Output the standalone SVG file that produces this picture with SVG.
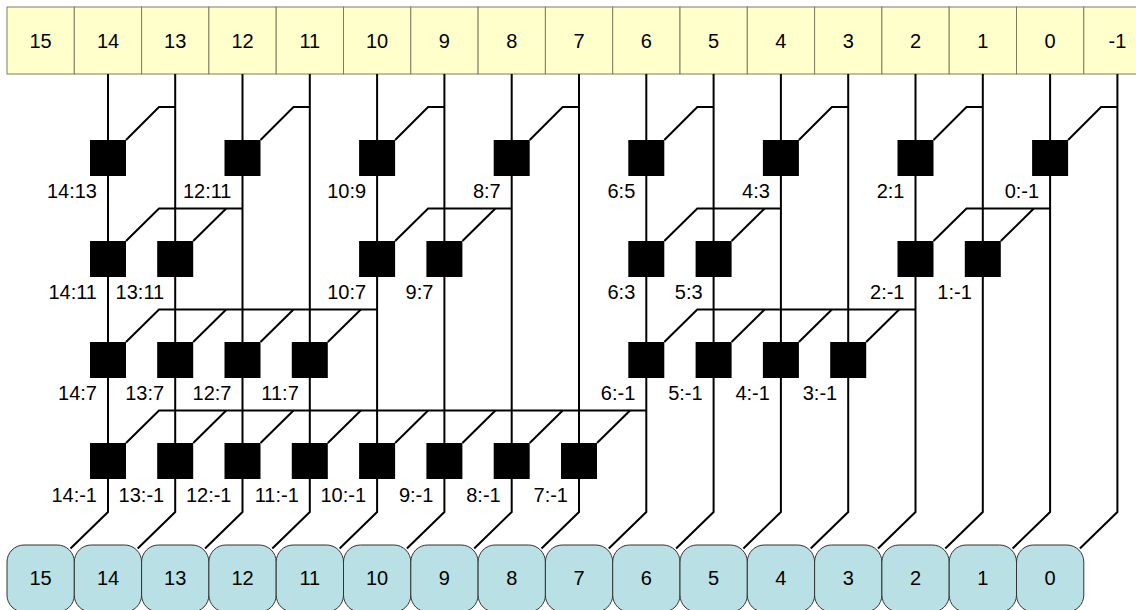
<svg xmlns="http://www.w3.org/2000/svg" width="1136" height="610" viewBox="0 0 1136 610">
<style>
.top rect{fill:#ffffcc;stroke:#7f7f60;stroke-width:1}
.bot rect{fill:#b9e0e4;stroke:#333;stroke-width:1}
.num{font-family:"Liberation Sans",Arial,sans-serif;font-size:20px;text-anchor:middle;fill:#000}
.lbl{font-family:"Liberation Sans",Arial,sans-serif;font-size:20px;text-anchor:end;fill:#000}
.w{fill:none;stroke:#000;stroke-width:2;stroke-linejoin:miter}
.sq{fill:#000}
</style>
<rect width="1136" height="610" fill="#fff"/>
<g id="inputs">
<g id="in15" class="top"><rect x="7" y="7" width="67.3" height="67"/><text class="num" x="40.6" y="47.5">15</text></g>
<g id="in14" class="top"><rect x="74.3" y="7" width="67.3" height="67"/><text class="num" x="108" y="47.5">14</text></g>
<g id="in13" class="top"><rect x="141.6" y="7" width="67.3" height="67"/><text class="num" x="175.2" y="47.5">13</text></g>
<g id="in12" class="top"><rect x="208.9" y="7" width="67.3" height="67"/><text class="num" x="242.5" y="47.5">12</text></g>
<g id="in11" class="top"><rect x="276.2" y="7" width="67.3" height="67"/><text class="num" x="309.8" y="47.5">11</text></g>
<g id="in10" class="top"><rect x="343.5" y="7" width="67.3" height="67"/><text class="num" x="377.1" y="47.5">10</text></g>
<g id="in9" class="top"><rect x="410.8" y="7" width="67.3" height="67"/><text class="num" x="444.4" y="47.5">9</text></g>
<g id="in8" class="top"><rect x="478.1" y="7" width="67.3" height="67"/><text class="num" x="511.7" y="47.5">8</text></g>
<g id="in7" class="top"><rect x="545.4" y="7" width="67.3" height="67"/><text class="num" x="579" y="47.5">7</text></g>
<g id="in6" class="top"><rect x="612.7" y="7" width="67.3" height="67"/><text class="num" x="646.3" y="47.5">6</text></g>
<g id="in5" class="top"><rect x="680" y="7" width="67.3" height="67"/><text class="num" x="713.6" y="47.5">5</text></g>
<g id="in4" class="top"><rect x="747.3" y="7" width="67.3" height="67"/><text class="num" x="780.9" y="47.5">4</text></g>
<g id="in3" class="top"><rect x="814.6" y="7" width="67.3" height="67"/><text class="num" x="848.2" y="47.5">3</text></g>
<g id="in2" class="top"><rect x="881.9" y="7" width="67.3" height="67"/><text class="num" x="915.5" y="47.5">2</text></g>
<g id="in1" class="top"><rect x="949.2" y="7" width="67.3" height="67"/><text class="num" x="982.8" y="47.5">1</text></g>
<g id="in0" class="top"><rect x="1016.5" y="7" width="67.3" height="67"/><text class="num" x="1050.1" y="47.5">0</text></g>
<g id="inm1" class="top"><rect x="1083.8" y="7" width="67.3" height="67"/><text class="num" x="1117.4" y="47.5">-1</text></g>
</g>
<g id="connectors">
<path class="w" d="M108 74V512L70.5 548.5"/>
<path class="w" d="M175.2 74V512L137.7 548.5"/>
<path class="w" d="M242.5 74V512L205 548.5"/>
<path class="w" d="M309.8 74V512L272.3 548.5"/>
<path class="w" d="M377.1 74V512L339.6 548.5"/>
<path class="w" d="M444.4 74V512L406.9 548.5"/>
<path class="w" d="M511.7 74V512L474.2 548.5"/>
<path class="w" d="M579 74V512L541.5 548.5"/>
<path class="w" d="M646.3 74V512L608.8 548.5"/>
<path class="w" d="M713.6 74V512L676.1 548.5"/>
<path class="w" d="M780.9 74V512L743.4 548.5"/>
<path class="w" d="M848.2 74V512L810.7 548.5"/>
<path class="w" d="M915.5 74V512L878 548.5"/>
<path class="w" d="M982.8 74V512L945.3 548.5"/>
<path class="w" d="M1050.1 74V512L1012.6 548.5"/>
<path class="w" d="M1117.4 74V512L1079.9 548.5"/>
<path class="w" d="M126 140L159 107H175.2"/>
<path class="w" d="M260.5 140L293.5 107H309.8"/>
<path class="w" d="M395.1 140L428.1 107H444.4"/>
<path class="w" d="M529.7 140L562.7 107H579"/>
<path class="w" d="M664.3 140L697.3 107H713.6"/>
<path class="w" d="M798.9 140L831.9 107H848.2"/>
<path class="w" d="M933.5 140L966.5 107H982.8"/>
<path class="w" d="M1068.1 140L1101.1 107H1117.4"/>
<path class="w" d="M126 241L159 208.5H242.5"/>
<path class="w" d="M193.2 241L226.2 208.5"/>
<path class="w" d="M395.1 241L428.1 208.5H511.7"/>
<path class="w" d="M462.4 241L495.4 208.5"/>
<path class="w" d="M664.3 241L697.3 208.5H780.9"/>
<path class="w" d="M731.6 241L764.6 208.5"/>
<path class="w" d="M933.5 241L966.5 208.5H1050.1"/>
<path class="w" d="M1000.8 241L1033.8 208.5"/>
<path class="w" d="M126 342L159 309.5H377.1"/>
<path class="w" d="M193.2 342L226.2 309.5"/>
<path class="w" d="M260.5 342L293.5 309.5"/>
<path class="w" d="M327.8 342L360.8 309.5"/>
<path class="w" d="M664.3 342L697.3 309.5H915.5"/>
<path class="w" d="M731.6 342L764.6 309.5"/>
<path class="w" d="M798.9 342L831.9 309.5"/>
<path class="w" d="M866.2 342L899.2 309.5"/>
<path class="w" d="M126 443L159 410.5H646.3"/>
<path class="w" d="M193.2 443L226.2 410.5"/>
<path class="w" d="M260.5 443L293.5 410.5"/>
<path class="w" d="M327.8 443L360.8 410.5"/>
<path class="w" d="M395.1 443L428.1 410.5"/>
<path class="w" d="M462.4 443L495.4 410.5"/>
<path class="w" d="M529.7 443L562.7 410.5"/>
<path class="w" d="M597 443L630 410.5"/>
</g>
<g id="cells">
<g id="n14_13"><rect class="sq" x="90" y="140" width="36" height="36"/><text class="lbl" x="97" y="198">14:13</text></g>
<g id="n12_11"><rect class="sq" x="224.5" y="140" width="36" height="36"/><text class="lbl" x="231.5" y="198">12:11</text></g>
<g id="n10_9"><rect class="sq" x="359.1" y="140" width="36" height="36"/><text class="lbl" x="366.1" y="198">10:9</text></g>
<g id="n8_7"><rect class="sq" x="493.7" y="140" width="36" height="36"/><text class="lbl" x="500.7" y="198">8:7</text></g>
<g id="n6_5"><rect class="sq" x="628.3" y="140" width="36" height="36"/><text class="lbl" x="635.3" y="198">6:5</text></g>
<g id="n4_3"><rect class="sq" x="762.9" y="140" width="36" height="36"/><text class="lbl" x="769.9" y="198">4:3</text></g>
<g id="n2_1"><rect class="sq" x="897.5" y="140" width="36" height="36"/><text class="lbl" x="904.5" y="198">2:1</text></g>
<g id="n0_m1"><rect class="sq" x="1032.1" y="140" width="36" height="36"/><text class="lbl" x="1039.1" y="198">0:-1</text></g>
<g id="n14_11"><rect class="sq" x="90" y="241" width="36" height="36"/><text class="lbl" x="97" y="299">14:11</text></g>
<g id="n13_11"><rect class="sq" x="157.2" y="241" width="36" height="36"/><text class="lbl" x="164.2" y="299">13:11</text></g>
<g id="n10_7"><rect class="sq" x="359.1" y="241" width="36" height="36"/><text class="lbl" x="366.1" y="299">10:7</text></g>
<g id="n9_7"><rect class="sq" x="426.4" y="241" width="36" height="36"/><text class="lbl" x="433.4" y="299">9:7</text></g>
<g id="n6_3"><rect class="sq" x="628.3" y="241" width="36" height="36"/><text class="lbl" x="635.3" y="299">6:3</text></g>
<g id="n5_3"><rect class="sq" x="695.6" y="241" width="36" height="36"/><text class="lbl" x="702.6" y="299">5:3</text></g>
<g id="n2_m1"><rect class="sq" x="897.5" y="241" width="36" height="36"/><text class="lbl" x="904.5" y="299">2:-1</text></g>
<g id="n1_m1"><rect class="sq" x="964.8" y="241" width="36" height="36"/><text class="lbl" x="971.8" y="299">1:-1</text></g>
<g id="n14_7"><rect class="sq" x="90" y="342" width="36" height="36"/><text class="lbl" x="97" y="400">14:7</text></g>
<g id="n13_7"><rect class="sq" x="157.2" y="342" width="36" height="36"/><text class="lbl" x="164.2" y="400">13:7</text></g>
<g id="n12_7"><rect class="sq" x="224.5" y="342" width="36" height="36"/><text class="lbl" x="231.5" y="400">12:7</text></g>
<g id="n11_7"><rect class="sq" x="291.8" y="342" width="36" height="36"/><text class="lbl" x="298.8" y="400">11:7</text></g>
<g id="n6_m1"><rect class="sq" x="628.3" y="342" width="36" height="36"/><text class="lbl" x="635.3" y="400">6:-1</text></g>
<g id="n5_m1"><rect class="sq" x="695.6" y="342" width="36" height="36"/><text class="lbl" x="702.6" y="400">5:-1</text></g>
<g id="n4_m1"><rect class="sq" x="762.9" y="342" width="36" height="36"/><text class="lbl" x="769.9" y="400">4:-1</text></g>
<g id="n3_m1"><rect class="sq" x="830.2" y="342" width="36" height="36"/><text class="lbl" x="837.2" y="400">3:-1</text></g>
<g id="n14_m1"><rect class="sq" x="90" y="443" width="36" height="36"/><text class="lbl" x="97" y="501.5">14:-1</text></g>
<g id="n13_m1"><rect class="sq" x="157.2" y="443" width="36" height="36"/><text class="lbl" x="164.2" y="501.5">13:-1</text></g>
<g id="n12_m1"><rect class="sq" x="224.5" y="443" width="36" height="36"/><text class="lbl" x="231.5" y="501.5">12:-1</text></g>
<g id="n11_m1"><rect class="sq" x="291.8" y="443" width="36" height="36"/><text class="lbl" x="298.8" y="501.5">11:-1</text></g>
<g id="n10_m1"><rect class="sq" x="359.1" y="443" width="36" height="36"/><text class="lbl" x="366.1" y="501.5">10:-1</text></g>
<g id="n9_m1"><rect class="sq" x="426.4" y="443" width="36" height="36"/><text class="lbl" x="433.4" y="501.5">9:-1</text></g>
<g id="n8_m1"><rect class="sq" x="493.7" y="443" width="36" height="36"/><text class="lbl" x="500.7" y="501.5">8:-1</text></g>
<g id="n7_m1"><rect class="sq" x="561" y="443" width="36" height="36"/><text class="lbl" x="568" y="501.5">7:-1</text></g>
</g>
<g id="outputs">
<g id="out15" class="bot"><rect x="7" y="545" width="67.3" height="67" rx="17"/><text class="num" x="40.6" y="585">15</text></g>
<g id="out14" class="bot"><rect x="74.3" y="545" width="67.3" height="67" rx="17"/><text class="num" x="108" y="585">14</text></g>
<g id="out13" class="bot"><rect x="141.6" y="545" width="67.3" height="67" rx="17"/><text class="num" x="175.2" y="585">13</text></g>
<g id="out12" class="bot"><rect x="208.9" y="545" width="67.3" height="67" rx="17"/><text class="num" x="242.5" y="585">12</text></g>
<g id="out11" class="bot"><rect x="276.2" y="545" width="67.3" height="67" rx="17"/><text class="num" x="309.8" y="585">11</text></g>
<g id="out10" class="bot"><rect x="343.5" y="545" width="67.3" height="67" rx="17"/><text class="num" x="377.1" y="585">10</text></g>
<g id="out9" class="bot"><rect x="410.8" y="545" width="67.3" height="67" rx="17"/><text class="num" x="444.4" y="585">9</text></g>
<g id="out8" class="bot"><rect x="478.1" y="545" width="67.3" height="67" rx="17"/><text class="num" x="511.7" y="585">8</text></g>
<g id="out7" class="bot"><rect x="545.4" y="545" width="67.3" height="67" rx="17"/><text class="num" x="579" y="585">7</text></g>
<g id="out6" class="bot"><rect x="612.7" y="545" width="67.3" height="67" rx="17"/><text class="num" x="646.3" y="585">6</text></g>
<g id="out5" class="bot"><rect x="680" y="545" width="67.3" height="67" rx="17"/><text class="num" x="713.6" y="585">5</text></g>
<g id="out4" class="bot"><rect x="747.3" y="545" width="67.3" height="67" rx="17"/><text class="num" x="780.9" y="585">4</text></g>
<g id="out3" class="bot"><rect x="814.6" y="545" width="67.3" height="67" rx="17"/><text class="num" x="848.2" y="585">3</text></g>
<g id="out2" class="bot"><rect x="881.9" y="545" width="67.3" height="67" rx="17"/><text class="num" x="915.5" y="585">2</text></g>
<g id="out1" class="bot"><rect x="949.2" y="545" width="67.3" height="67" rx="17"/><text class="num" x="982.8" y="585">1</text></g>
<g id="out0" class="bot"><rect x="1016.5" y="545" width="67.3" height="67" rx="17"/><text class="num" x="1050.1" y="585">0</text></g>
</g>
</svg>
